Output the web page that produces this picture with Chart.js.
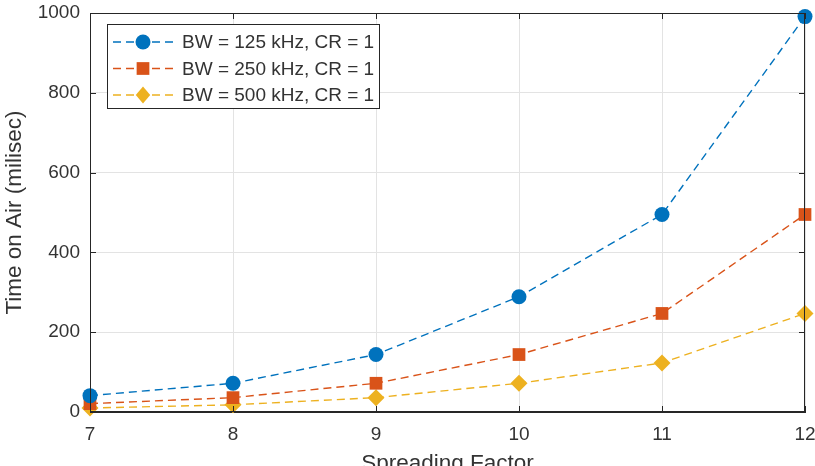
<!DOCTYPE html>
<html>
<head>
<meta charset="utf-8">
<script src="https://cdn.jsdelivr.net/npm/chart.js@4.4.1/dist/chart.umd.min.js"></script>
<style>
  html, body { margin: 0; padding: 0; background: #fff; overflow: hidden; }
  #wrap { width: 815px; height: 480px; position: relative; }
</style>
</head>
<body>
<div id="wrap"><canvas id="chart"></canvas></div>
<script>
// ── Data
const spreadingFactors = [7, 8, 9, 10, 11, 12];
const bw125 = [41, 72, 144, 289, 495, 991];
const bw250 = [21, 36, 72, 144, 247, 495];
const bw500 = [10, 18, 36, 72, 123, 247];
const seriesLabels = ['BW = 125 kHz, CR = 1', 'BW = 250 kHz, CR = 1', 'BW = 500 kHz, CR = 1'];
const yTicks = [0, 200, 400, 600, 800, 1000];

const AXIS = '#262626';
const TEXT = '#333333';
const FONT = '"Liberation Sans", Arial, sans-serif';
const colors = ['#0072BD', '#D95319', '#EDB120'];
const styles = ['circle', 'rect', 'rectRot'];
const radii  = [7.5, 9, 8.5];

function toPoints(vals) {
  return spreadingFactors.map((sf, i) => ({ x: sf, y: vals[i] }));
}

const datasets = [bw125, bw250, bw500].map((vals, i) => ({
  label: seriesLabels[i],
  data: toPoints(vals),
  borderColor: colors[i],
  backgroundColor: colors[i],
  borderWidth: 1.4,
  borderDash: [8, 5],
  pointStyle: styles[i],
  pointRadius: radii[i],
  pointBorderWidth: 0,
  pointBackgroundColor: colors[i],
  clip: false,
  tension: 0
}));

// ── small marker helper (legend)
function drawMarker(ctx, style, x, y, r, color) {
  ctx.save();
  ctx.fillStyle = color;
  ctx.beginPath();
  if (style === 'circle') {
    ctx.arc(x, y, r, 0, Math.PI * 2);
  } else if (style === 'rect') {
    const s = r * Math.SQRT1_2;
    ctx.rect(x - s, y - s, 2 * s, 2 * s);
  } else {
    ctx.moveTo(x, y - r); ctx.lineTo(x + r * 0.85, y);
    ctx.lineTo(x, y + r); ctx.lineTo(x - r * 0.85, y);
    ctx.closePath();
  }
  ctx.fill();
  ctx.restore();
}

// ── box, inward ticks and legend, matlab style
const matlabFrame = {
  id: 'matlabFrame',
  afterDraw(chart) {
    const { ctx, chartArea: a, scales } = chart;
    ctx.save();
    ctx.strokeStyle = AXIS;
    ctx.lineWidth = 1;
    ctx.strokeRect(a.left + 0.5, a.top + 0.5, a.right - a.left - 1, a.bottom - a.top - 1);
    const tl = 6;
    scales.x.ticks.forEach((t, i) => {
      const px = Math.round(scales.x.getPixelForTick(i)) + 0.5;
      ctx.beginPath();
      ctx.moveTo(px, a.bottom); ctx.lineTo(px, a.bottom - tl);
      ctx.moveTo(px, a.top); ctx.lineTo(px, a.top + tl);
      ctx.stroke();
    });
    scales.y.ticks.forEach((t, i) => {
      const py = Math.round(scales.y.getPixelForTick(i)) + 0.5;
      ctx.beginPath();
      ctx.moveTo(a.left, py); ctx.lineTo(a.left + tl, py);
      ctx.moveTo(a.right, py); ctx.lineTo(a.right - tl, py);
      ctx.stroke();
    });

    // legend box
    const bx = a.left + 17, by = a.top + 11, bw = 272, bh = 84;
    ctx.fillStyle = '#fff';
    ctx.fillRect(bx, by, bw, bh);
    ctx.strokeStyle = AXIS;
    ctx.strokeRect(bx + 0.5, by + 0.5, bw, bh);
    ctx.font = '19px ' + FONT;
    ctx.textBaseline = 'middle';
    chart.data.datasets.forEach((ds, i) => {
      const ry = by + 18 + i * 26.5;
      ctx.save();
      ctx.strokeStyle = ds.borderColor;
      ctx.lineWidth = ds.borderWidth;
      ctx.setLineDash(ds.borderDash);
      ctx.beginPath();
      ctx.moveTo(bx + 6, ry); ctx.lineTo(bx + 68, ry);
      ctx.stroke();
      ctx.restore();
      drawMarker(ctx, ds.pointStyle, bx + 36, ry, ds.pointRadius, ds.pointBackgroundColor);
      ctx.fillStyle = TEXT;
      ctx.fillText(ds.label, bx + 75, ry + 1);
    });
    ctx.restore();
  }
};

new Chart(document.getElementById('chart'), {
  type: 'line',
  data: { datasets },
  options: {
    responsive: true,
    maintainAspectRatio: false,
    animation: false,
    layout: { padding: { top: 13, right: 10, left: 0, bottom: 0 } },
    plugins: { legend: { display: false }, tooltip: { enabled: false } },
    scales: {
      x: {
        type: 'linear',
        min: 7, max: 12,
        afterFit: s => { s.height = 68; s.paddingLeft = 0; s.paddingRight = 0; },
        afterBuildTicks: s => { s.ticks = spreadingFactors.map(v => ({ value: v })); },
        grid: { color: '#e3e3e3', drawTicks: false },
        border: { color: AXIS },
        ticks: { color: TEXT, font: { family: FONT, size: 19 }, padding: 11, maxRotation: 0, callback: v => String(v) },
        title: { display: true, text: 'Spreading Factor', color: TEXT, font: { family: FONT, size: 22.5 }, padding: { top: 0, bottom: 3 } }
      },
      y: {
        min: 0, max: 1000,
        afterFit: s => { s.width = 90; s.paddingTop = 0; s.paddingBottom = 0; },
        afterBuildTicks: s => { s.ticks = yTicks.map(v => ({ value: v })); },
        grid: { color: '#e3e3e3', drawTicks: false },
        border: { color: AXIS },
        ticks: { color: TEXT, font: { family: FONT, size: 19 }, padding: 10, callback: v => String(v) },
        title: { display: true, text: 'Time on Air (milisec)', color: TEXT, font: { family: FONT, size: 22.5 }, padding: { top: 1, bottom: 0 } }
      }
    }
  },
  plugins: [matlabFrame]
});
</script>
</body>
</html>
